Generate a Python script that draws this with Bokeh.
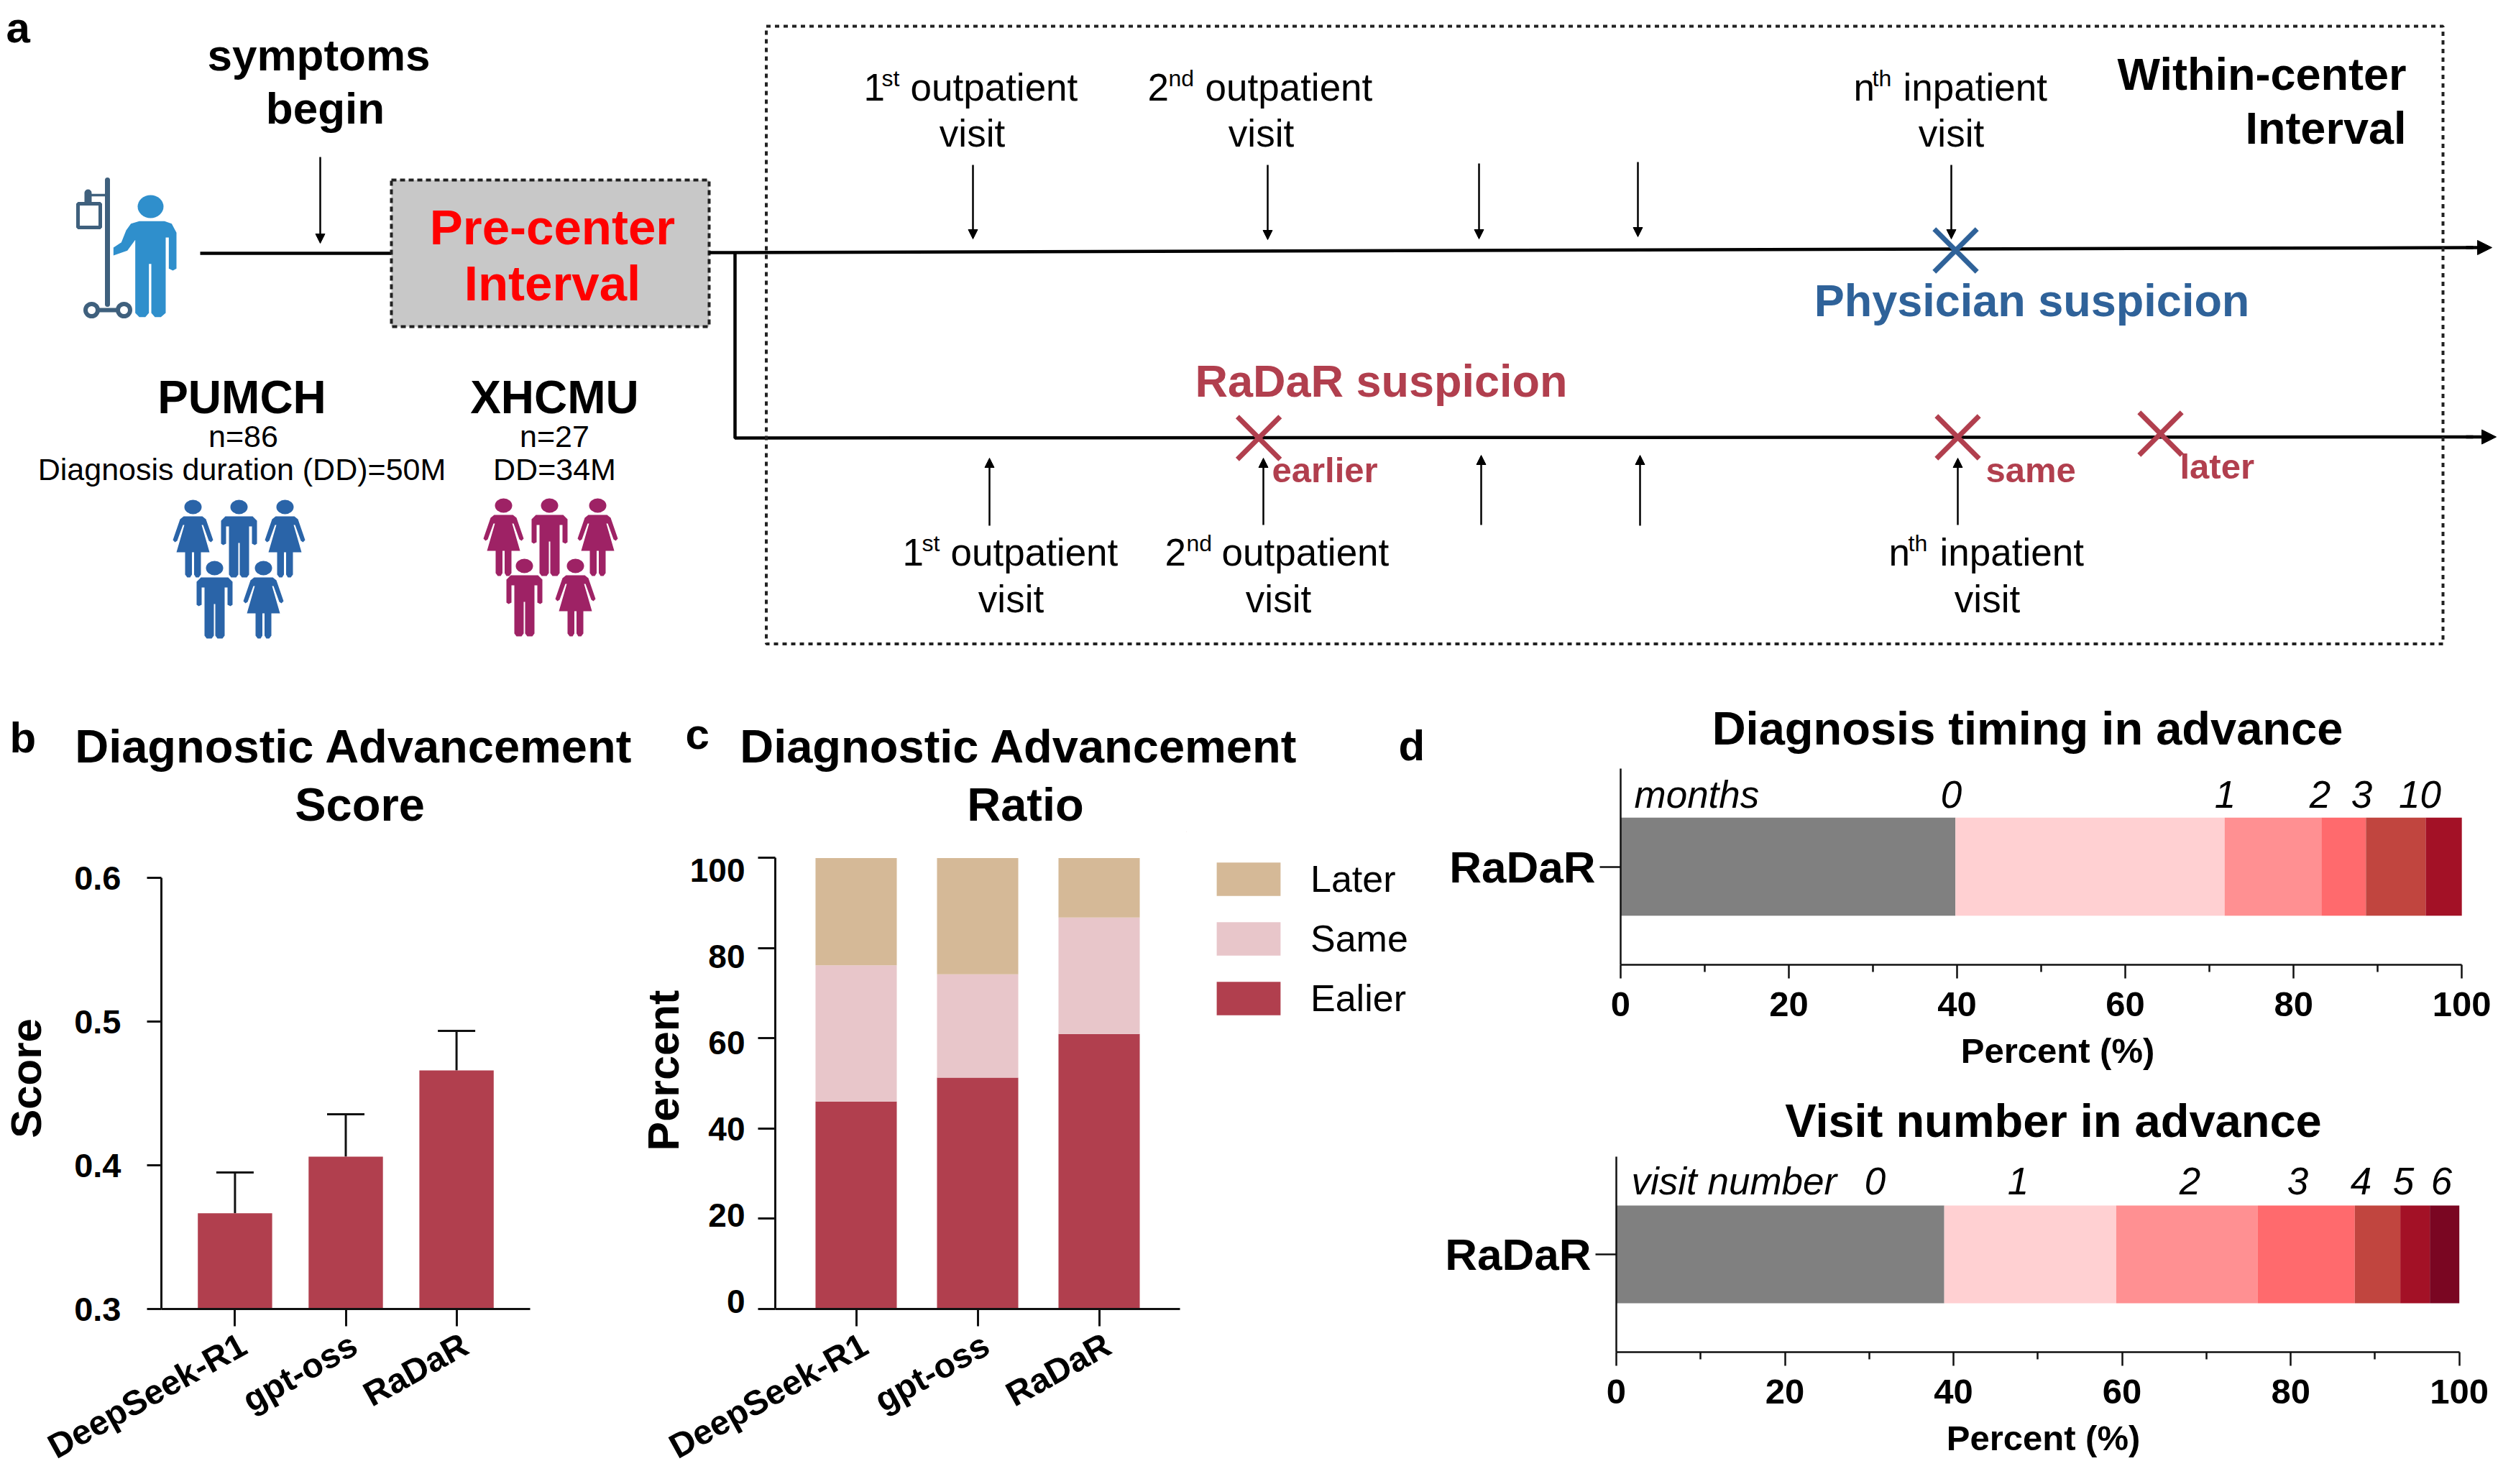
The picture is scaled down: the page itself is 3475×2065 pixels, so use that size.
import math
from bokeh.plotting import figure
from bokeh.embed import file_html
from bokeh.resources import INLINE
from bokeh.layouts import column, row
from bokeh.models import (Range1d, Label, Arrow, NormalHead, LinearAxis, FixedTicker,
                          ColumnDataSource, Whisker, TeeHead, Legend, LegendItem)

FONT = "Liberation Sans"
RED = "#B13F4E"
BLUE = "#2F6299"

# ---------- data ----------
models = ["DeepSeek-R1", "gpt-oss", "RaDaR"]
score_values = [0.3666, 0.406, 0.466]
score_upper = [0.395, 0.4355, 0.4935]

ratio_earlier = [46.0, 51.3, 61.0]
ratio_same = [30.2, 22.9, 25.8]
ratio_later = [23.8, 25.8, 13.2]
ratio_colors = [RED, "#E8C6CA", "#D5B997"]
legend_labels = ["Later", "Same", "Ealier"]

timing_shares = [39.8, 32.0, 11.5, 5.3, 7.1, 4.3]
timing_colors = ["#808080", "#FFD0D2", "#FF9092", "#FF6A6D", "#C1453F", "#A31126"]
timing_labels = ["0", "1", "2", "3", "10"]

visit_shares = [38.9, 20.4, 16.8, 11.5, 5.4, 3.5, 3.5]
visit_colors = ["#808080", "#FFD0D2", "#FF9092", "#FF6A6D", "#C1453F", "#A31126", "#7A0622"]
visit_labels = ["0", "1", "2", "3", "4", "5", "6"]

model_pos = list(range(len(models)))
model_names = {i: m for i, m in enumerate(models)}

PAGE_W, PAGE_H, TOP_H = 3473, 2065, 940
BC_SPLIT, C_END, CD_SPLIT, TITLE_BOTTOM = 885, 1650, 1990, 1157
ORIGIN = {}


def lab(p, x, y, text, size, style="normal", color="black", align="left", angle=0):
    """Text placed by page pixels, y being the baseline."""
    ox, oy = ORIGIN[p.id]
    p.add_layout(Label(x=x - ox, y=y - oy - 0.34 * size, text=text, x_units="canvas", y_units="canvas",
                       text_font=FONT, text_font_size=f"{size}px",
                       text_font_style=style, text_color=color, text_align=align,
                       text_baseline="alphabetic", angle=angle, angle_units="deg"))


def bare(p, ox, oy):
    ORIGIN[p.id] = (ox, oy)
    p.outline_line_color = None
    p.grid.visible = False
    p.background_fill_color = "white"
    p.border_fill_color = "white"


def strip(x0, x1, y0, y1):
    """A frame-only figure carrying text or a diagram, spanning these page pixels."""
    p = figure(width=x1 - x0, height=y1 - y0, x_range=Range1d(x0, x1), y_range=Range1d(y1, y0),
               output_backend="svg", toolbar_location=None, x_axis_type=None, y_axis_type=None, min_border=0,
               frame_align=False)
    bare(p, x0, y0)
    return p


def style_axis(ax, size, tick_out, lw=3):
    ax.axis_line_color = "#111111"
    ax.axis_line_width = lw
    ax.major_tick_line_color = "#111111"
    ax.major_tick_line_width = lw
    ax.major_tick_in = 0
    ax.major_tick_out = tick_out
    ax.minor_tick_line_color = None
    ax.major_label_text_font = FONT
    ax.major_label_text_font_size = f"{size}px"
    ax.major_label_text_font_style = "bold"
    ax.major_label_text_color = "black"
    ax.axis_label_text_font = FONT
    ax.axis_label_text_font_style = "bold"
    ax.axis_label_text_color = "black"


def hide_labels(ax):
    ax.major_label_text_color = None
    ax.major_label_text_font_size = "1px"
    ax.major_label_standoff = 0


def model_axis(p, pitch, shift, standoff):
    """Ticks stay on the bars; the slanted names hang from a second axis set a few pixels to the right."""
    xa = p.xaxis[0]
    style_axis(xa, 48, 24)
    xa.ticker = FixedTicker(ticks=model_pos)
    hide_labels(xa)
    p.extra_x_ranges = {"names": Range1d(p.x_range.start - shift / pitch, p.x_range.end - shift / pitch)}
    names = LinearAxis(x_range_name="names", ticker=FixedTicker(ticks=model_pos))
    style_axis(names, 48, 0)
    names.axis_line_color = None
    names.major_tick_line_color = None
    names.major_label_overrides = model_names
    names.major_label_orientation = math.radians(29)
    names.major_label_standoff = standoff
    p.add_layout(names, "below")


# ---------- panel a (diagram, page pixel coordinates) ----------
A = strip(0, PAGE_W, 0, TOP_H)


def arrow(x0, y0, x1, y1, lw=2.5, head=13):
    A.add_layout(Arrow(end=NormalHead(size=head, fill_color="black", line_color="black", line_width=1),
                       x_start=x0, y_start=y0, x_end=x1, y_end=y1,
                       line_color="black", line_width=lw))


lab(A, 8, 58, "a", 60, "bold")
lab(A, 443, 97, "symptoms", 62, "bold", align="center")
lab(A, 452, 171, "begin", 62, "bold", align="center")
arrow(445, 218, 445, 338)
A.line([278, 544], [352, 352], line_color="black", line_width=4.5)

A.quad(left=[544], right=[986], top=[250], bottom=[454], fill_color="#C8C8C8",
       line_color="#222222", line_width=4, line_dash="7 5")
lab(A, 768, 339, "Pre-center", 69, "bold", "#FF0000", "center")
lab(A, 768, 417, "Interval", 69, "bold", "#FF0000", "center")

A.line([986, 3440], [351, 344], line_color="black", line_width=4.5)
arrow(3430, 344, 3466, 344, 4.5, 20)
A.line([1022, 1022, 3440], [351, 609, 607.5], line_color="black", line_width=4.5)
arrow(3430, 607.5, 3472, 607.5, 4.5, 20)

A.quad(left=[1065.5], right=[3398], top=[36], bottom=[895.5], fill_color=None,
       line_color="#222222", line_width=4, line_dash="6 6")

for x, y0, y1 in [(1353, 229, 332), (1763, 229, 333), (2057, 227, 332), (2278, 225, 329), (2714, 229, 332)]:
    arrow(x, y0, x, y1)
for x, y0, y1 in [(1376, 731, 637), (1757, 730, 637), (2060, 730, 633), (2281, 731, 633), (2723, 730, 637)]:
    arrow(x, y0, x, y1)


def ordinal(x_num, x_sup, x_word, y, num, sup, word, vx, vy):
    lab(A, x_num, y, num, 53)
    lab(A, x_sup, y - 20, sup, 32)
    lab(A, x_word, y, word, 53)
    lab(A, vx, vy, "visit", 53, align="center")


ordinal(1201, 1226, 1266, 139, "1", "st", "outpatient", 1352, 203)
ordinal(1596, 1625, 1676, 139, "2", "nd", "outpatient", 1754, 203)
ordinal(2578, 2604, 2647, 139, "n", "th", "inpatient", 2714, 203)
ordinal(1255, 1282, 1322, 786, "1", "st", "outpatient", 1406, 851)
ordinal(1620, 1650, 1699, 786, "2", "nd", "outpatient", 1778, 851)
ordinal(2627, 2654, 2698, 786, "n", "th", "inpatient", 2764, 851)

lab(A, 3347, 124, "Within-center", 63, "bold", align="right")
lab(A, 3347, 199, "Interval", 63, "bold", align="right")
lab(A, 2826, 439, "Physician suspicion", 63, "bold", BLUE, "center")
lab(A, 1921, 551, "RaDaR suspicion", 63, "bold", RED, "center")
lab(A, 1769, 670, "earlier", 49, "bold", RED)
lab(A, 2762, 670, "same", 49, "bold", RED)
lab(A, 3032, 665, "later", 49, "bold", RED)

A.scatter([2720], [348], marker="x", size=84, line_color=BLUE, line_width=7)
A.scatter([1750.6, 2723, 3005], [609, 608, 603], marker="x", size=84, line_color=RED, line_width=7)

lab(A, 336, 574, "PUMCH", 64, "bold", align="center")
lab(A, 338, 621, "n=86", 43, align="center")
lab(A, 336, 667, "Diagnosis duration (DD)=50M", 43, align="center")
lab(A, 771, 574, "XHCMU", 64, "bold", align="center")
lab(A, 771, 621, "n=27", 43, align="center")
lab(A, 771, 667, "DD=34M", 43, align="center")

# IV stand and patient icon
POLE = "#3F607D"
SKIN = "#2F8FCC"
A.line([149, 149], [250, 423], line_color=POLE, line_width=7, line_cap="round")
A.line([149, 122], [271, 271], line_color=POLE, line_width=3.5)
A.line([122, 122], [268, 284], line_color=POLE, line_width=10, line_cap="round")
A.quad(left=[108], right=[139], top=[283], bottom=[316], fill_color="white", line_color=POLE, line_width=5)
A.line([127, 172], [431, 431], line_color=POLE, line_width=6)
A.ellipse([127, 172], [431, 431], width=17, height=17, fill_color="white", line_color=POLE, line_width=6)
A.ellipse([209], [287], width=36, height=32, fill_color=SKIN, line_color=None)
body = [(430, 262), (535, 262), (565, 272), (585, 310), (585, 460), (570, 468), (553, 460), (553, 330),
        (540, 330), (540, 645), (520, 662), (495, 662), (480, 645), (480, 440), (470, 440), (470, 645),
        (455, 662), (430, 662), (413, 645), (413, 340), (380, 385), (322, 405), (322, 372), (355, 350),
        (375, 300), (395, 272)]
A.patch([50 + a / 3 for a, _ in body], [220 + b / 3 for _, b in body], fill_color=SKIN, line_color=None)

MALE = [(19, 23), (25, 29), (25, 61), (22, 63), (18, 61), (18, 37), (14, 37), (14, 104), (11, 108), (4, 108),
        (1, 104), (1, 60)]
FEMALE = [(13, 23), (18, 27), (28, 56), (25, 59), (22, 57), (14, 35), (12, 35), (23, 73), (11, 73), (11, 104),
          (8, 108), (4, 108), (1.5, 104), (1.5, 73)]


def person(cx, top, shape, color):
    pts = shape + [(-a, b) for a, b in reversed(shape)]
    A.patch([cx + a for a, _ in pts], [top + b for _, b in pts], fill_color=color, line_color=None)
    A.ellipse([cx], [top + 10], width=24, height=20, fill_color=color, line_color=None)


for cx, top, shp in [(268, 695, FEMALE), (332, 695, MALE), (396, 695, FEMALE), (298, 780, MALE), (366, 780, FEMALE)]:
    person(cx, top, shp, "#2A64A8")
for cx, top, shp in [(700, 693, FEMALE), (764, 693, MALE), (831, 693, FEMALE), (729, 777, MALE), (800, 777, FEMALE)]:
    person(cx, top, shp, "#9E2265")

# ---------- titles of b and c, panel letters ----------
T = strip(0, CD_SPLIT, TOP_H, TITLE_BOTTOM)
lab(T, 13, 1046, "b", 60, "bold")
lab(T, 492, 1060, "Diagnostic Advancement", 65, "bold", align="center")
lab(T, 500, 1141, "Score", 65, "bold", align="center")
lab(T, 953, 1041, "c", 60, "bold")
lab(T, 1417, 1060, "Diagnostic Advancement", 65, "bold", align="center")
lab(T, 1426, 1141, "Ratio", 65, "bold", align="center")
lab(T, 1945, 1057, "d", 60, "bold")

# ---------- panel b ----------
BL, BR, BT, BB = 221, 737, 1179, 1821
B = figure(width=BC_SPLIT, height=PAGE_H - TITLE_BOTTOM, x_range=Range1d((BL - 324) / 155, (BR - 324) / 155),
           y_range=Range1d(0.3, 0.3 + (BB - BT) / 2000), output_backend="svg", toolbar_location=None,
           min_border_left=BL, min_border_right=BC_SPLIT - BR, min_border_top=BT - TITLE_BOTTOM,
           min_border_bottom=PAGE_H - BB, frame_align=False)
bare(B, 0, TITLE_BOTTOM)
src_b = ColumnDataSource(dict(model=model_pos, value=score_values, upper=score_upper))
B.vbar(x="model", top="value", bottom=0.3, width=0.671, source=src_b, fill_color=RED, line_color=None)
B.add_layout(Whisker(base="model", upper="upper", lower="value", source=src_b, line_color="#111111", line_width=3,
                     upper_head=TeeHead(size=52, line_color="#111111", line_width=3), lower_head=None))
B.yaxis.ticker = FixedTicker(ticks=[0.3, 0.4, 0.5, 0.6])
B.yaxis.bounds = (0.3, 0.6)
style_axis(B.yaxis[0], 47, 20)
B.yaxis.major_label_standoff = 36
B.yaxis.axis_label = "Score"
B.yaxis.axis_label_text_font_size = "60px"
B.yaxis.axis_label_standoff = 30
model_axis(B, 155, 12, 22)

# ---------- panel c ----------
CL, CR, CT, CB = 1078, 1641, 1157, 1823
C = figure(width=C_END - BC_SPLIT, height=PAGE_H - TITLE_BOTTOM,
           x_range=Range1d((CL - 1190.5) / 169, (CR - 1190.5) / 169),
           y_range=Range1d(0, (CB - CT) / 6.295), output_backend="svg", toolbar_location=None,
           min_border_left=CL - BC_SPLIT, min_border_right=C_END - CR, min_border_top=CT - TITLE_BOTTOM,
           min_border_bottom=PAGE_H - CB, frame_align=False)
bare(C, BC_SPLIT, TITLE_BOTTOM)
C.extra_y_ranges = {"lab": Range1d((1812 - CB) / 6.01, (1812 - CT) / 6.01)}
src_c = ColumnDataSource(dict(model=model_pos, earlier=ratio_earlier, same=ratio_same, later=ratio_later))
C.vbar_stack(["earlier", "same", "later"], x="model", width=0.669, fill_color=ratio_colors, line_color=None,
             source=src_c)
C.yaxis.ticker = FixedTicker(ticks=[0, 20, 40, 60, 80, 100])
C.yaxis.bounds = (0, 100)
style_axis(C.yaxis[0], 42, 24)
hide_labels(C.yaxis[0])
lab_axis = LinearAxis(y_range_name="lab", ticker=FixedTicker(ticks=[0, 20, 40, 60, 80, 100]))
style_axis(lab_axis, 46, 0)
lab_axis.axis_line_color = None
lab_axis.major_tick_line_color = None
lab_axis.major_label_standoff = 18
lab_axis.axis_label = "Percent"
lab_axis.axis_label_text_font_size = "61px"
lab_axis.axis_label_standoff = 0
C.add_layout(lab_axis, "left")
model_axis(C, 169, 12, 22)

# legend of panel c, beside its frame; its key glyphs sit off the frame, only their swatches show
L = strip(C_END, CD_SPLIT, TITLE_BOTTOM, PAGE_H)
legend_keys = [L.vbar(x=[-500], top=[-500], bottom=[-600], width=1, fill_color=c, line_color=None)
               for c in reversed(ratio_colors)]
L.add_layout(Legend(items=[LegendItem(label=t, renderers=[r]) for t, r in zip(legend_labels, legend_keys)],
                    location=(31, 646), border_line_color=None, background_fill_alpha=0, padding=0, margin=0,
                    spacing=23, glyph_width=111, glyph_height=58, label_standoff=31, label_height=46,
                    label_text_font=FONT, label_text_font_size="52px", label_text_color="black"))


# ---------- panel d ----------
def d_panel(shares, colors, L_, T_, B_, scale, top_edge, bottom_edge):
    R = 3436
    names = [f"s{i}" for i in range(len(shares))]
    p = figure(width=PAGE_W - CD_SPLIT, height=bottom_edge - top_edge, x_range=Range1d(0, (R - L_) / scale),
               y_range=Range1d(-1, 1), output_backend="svg", toolbar_location=None,
               min_border_left=L_ - CD_SPLIT, min_border_right=PAGE_W - R, min_border_top=T_ - top_edge,
               min_border_bottom=bottom_edge - B_, frame_align=False)
    bare(p, CD_SPLIT, top_edge)
    data = {n: [v] for n, v in zip(names, shares)}
    data["y"] = [0]
    p.hbar_stack(names, y="y", height=1, fill_color=colors, line_color=None, source=ColumnDataSource(data))
    xa = p.xaxis[0]
    style_axis(xa, 49, 19, 2.5)
    xa.ticker = FixedTicker(ticks=[0, 20, 40, 60, 80, 100], minor_ticks=[10, 30, 50, 70, 90])
    xa.bounds = (0, 100)
    xa.minor_tick_line_color = "#111111"
    xa.minor_tick_line_width = 2.5
    xa.minor_tick_in = 0
    xa.minor_tick_out = 10
    xa.major_label_standoff = 19
    ya = p.yaxis[0]
    style_axis(ya, 62, 29, 2.5)
    ya.ticker = FixedTicker(ticks=[0])
    ya.major_label_overrides = {0: "RaDaR"}
    ya.major_label_standoff = 6
    return p


T1 = strip(CD_SPLIT, PAGE_W, TOP_H, 1065)
lab(T1, 2820, 1035, "Diagnosis timing in advance", 65, "bold", align="center")

D1 = d_panel(timing_shares, timing_colors, 2254, 1069, 1342, 11.702, 1065, 1425)
lab(D1, 2273, 1123, "months", 53, "italic")
for t, x in zip(timing_labels, [2714, 3095, 3227, 3285, 3366]):
    lab(D1, x, 1123, t, 53, "italic", align="center")

S1 = strip(CD_SPLIT, PAGE_W, 1425, 1605)
lab(S1, 2862, 1478, "Percent (%)", 49, "bold", align="center")
lab(S1, 2856, 1581, "Visit number in advance", 65, "bold", align="center")

D2 = d_panel(visit_shares, visit_colors, 2248, 1609, 1881, 11.727, 1605, 1965)
lab(D2, 2269, 1661, "visit number", 53, "italic")
for t, x in zip(visit_labels, [2608, 2807, 3046, 3196, 3284, 3343, 3396]):
    lab(D2, x, 1661, t, 53, "italic", align="center")

S2 = strip(CD_SPLIT, PAGE_W, 1965, PAGE_H)
lab(S2, 2842, 2017, "Percent (%)", 49, "bold", align="center")

page = column(A,
              row(column(T, row(B, C, L, spacing=0), spacing=0),
                  column(T1, D1, S1, D2, S2, spacing=0), spacing=0),
              spacing=0)
open("out.html", "w").write(file_html(page, INLINE))
